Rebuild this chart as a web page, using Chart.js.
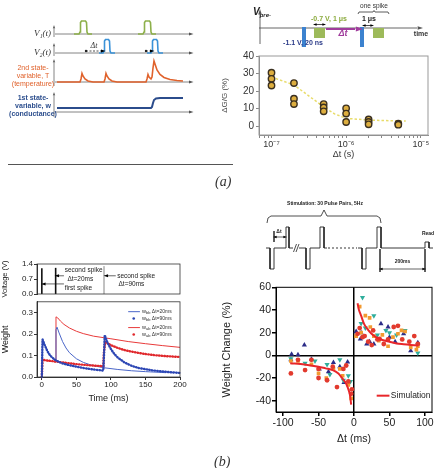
<!DOCTYPE html>
<html>
<head>
<meta charset="utf-8">
<script src="https://cdn.jsdelivr.net/npm/chart.js@4.4.1/dist/chart.umd.min.js"></script>
<style>
body { margin: 0; background: #fff; width: 437px; height: 468px; position: relative; overflow: hidden; }
canvas { position: absolute; }
.cap { position: absolute; font: italic 14px 'Liberation Serif', 'Times New Roman', serif; color: #333; line-height: 1; }
.rule { position: absolute; left: 8px; top: 164px; width: 225px; height: 1px; background: #555; }
</style>
</head>
<body>
<canvas id="a1" width="220" height="125" style="left:0;top:0"></canvas>
<canvas id="a2top" width="197" height="52" style="left:240px;top:0"></canvas>
<canvas id="a2" width="217" height="112" style="left:220px;top:48px"></canvas>
<div class="rule"></div>
<div class="cap" style="left:215px;top:175px">(a)</div>
<canvas id="b1v" width="200" height="45" style="left:0;top:255px"></canvas>
<canvas id="b1w" width="200" height="108" style="left:0;top:296px"></canvas>
<canvas id="b2top" width="187" height="85" style="left:250px;top:195px"></canvas>
<canvas id="b2" width="217" height="165" style="left:220px;top:280px"></canvas>
<div class="cap" style="left:214px;top:455px">(b)</div>

<script>
// ---- (a) left: schematic traces (schematic units) ----
const a1Axes = [[55,34],[189,34],[55,null],[55,53],[189,53],[55,null],[55,82],[189,82],[55,null],[55,112],[189,112],[55,null],
  [54,37],[54,29],[54,null],[54,56],[54,47],[54,null],[54,86],[54,63],[54,null],[54,117],[54,96]];
const a1HeadsRight = [[191,34],[191,53],[191,82],[191,112]];
const a1HeadsUp = [[54,27],[54,45],[54,61],[54,94]];
const a1V1 = [[74,34],[79,34],[80,32],[80.5,22.5],[81.5,21],[85.5,21],[86.5,22.5],[87,32],[88,34],[92,34],[92,null],
  [138,34],[143,34],[144,32],[144.5,22.5],[145.5,21],[149.5,21],[150.5,22.5],[151,32],[152,34],[156,34]];
const a1V2 = [[99,53],[103,53],[104,51],[104.5,41],[105.5,39.5],[108.5,39.5],[109.5,41],[110,51],[111,53],[115,53],[115,null],
  [147,53],[151,53],[152,51],[152.5,41],[153.5,39.5],[156.5,39.5],[157.5,41],[158,51],[159,53],[163,53]];
const a1DtArrows = [[86,51],[102,51],[102,null],[146,51],[151,51]];
const a1T = [[57,82],[80,82],[81,79],[82,73.5],[83,76],[85,79],[88,81],[93,82],[104,82],[105,79],[106,73.5],[107,76],[109,79],
  [112,81],[117,82],[146,82],[147,79],[148,74.5],[149,77],[151,79],[152,77],[153,68],[154,61],[155,64],[157,70],[160,74.5],
  [164,77.5],[170,79.5],[177,80.5],[183,81]];
const a1W = [[57,108],[151,108],[152,107],[153,103],[154,100],[156,98.5],[160,98],[183,98]];

// ---- (a) right top: pulse scheme ----
const a2tAxis = [[259,28],[417,28],[259,null],[260,44],[260,14]];
const a2tBlue = [[304,27],[304,47],[304,null],[362,27],[362,47]];
const a2tGreen = [[314,33],[325,33],[325,null],[373,33],[384,33]];
const a2tPurple = [[326,29],[355,29]];
const a2tBrace = [[358,14],[359,12],[373,12],[374,10.5],[375,12],[388,12],[389,14]];
const a2tSmall = [[316,24.5],[323,24.5],[323,null],[365,25.5],[371,25.5]];

// ---- (a) right: conductance change vs delta t ----
const a2Dt = [1e-7,1e-7,1e-7,2e-7,2e-7,2e-7,5e-7,5e-7,5e-7,1e-6,1e-6,1e-6,2e-6,2e-6,2e-6,5e-6,5e-6];
const a2Dg = [30.5,27,23.2,24.6,15.7,12.6,12.6,10.7,8.5,10.2,7.2,2.4,3.9,2.4,1.1,1.5,0.9];
const a2TrendX = [1e-7,2e-7,3e-7,5e-7,7e-7,1e-6,2e-6,5e-6,6.3e-6];
const a2TrendY = [28,23.5,18,11,7,4.5,3.5,3,3];
const a2XMajor = [1e-7,1e-6,1e-5];
const a2XLabels = ['10\u207B\u2077','10\u207B\u2076','10\u207B\u2075'];
const a2YTicks = [0,10,20,30,40];

// ---- (b) left: voltage and weight ----
const b1Spike1 = [[0,0],[0,1.2]];
const b1Spike2 = [[20,0],[20,1.22]];
const b1Spike3 = [[90,0],[90,1.3]];
const b1Pointers = [[23,0.85],[32,0.85],[32,null],[4,0.47],[32,0.47],[32,null],[95,0.85],[107,0.85]];
const b1VTicks = [0,0.7,1.4];
const b1BlueLineT = [0,1,3,6,10,14,18,20,20.5,22,25,30,35,40,50,60,70,80,90,110,130,150,180];
const b1BlueLineW = [0,0.17,0.16,0.135,0.11,0.092,0.08,0.075,0.22,0.232,0.205,0.165,0.135,0.113,0.085,0.068,0.057,0.049,0.043,0.035,0.029,0.025,0.02];
const b1BlueDotT = [0,1,4,8,12,16,20,25,30,40,50,60,70,80,89,90,91,95,100,105,110,120,130,140,160,180,190,200];
const b1BlueDotW = [0,0.175,0.15,0.12,0.1,0.088,0.078,0.07,0.063,0.055,0.048,0.042,0.037,0.033,0.03,0.1,0.195,0.16,0.13,0.107,0.09,0.067,0.052,0.042,0.031,0.024,0.021,0.019];
const b1RedLineT = [0,1,10,20,20.5,23,27,32,40,50,60,75,100,125,150,175,200];
const b1RedLineW = [0,0.078,0.074,0.07,0.28,0.275,0.26,0.245,0.228,0.213,0.202,0.19,0.178,0.165,0.155,0.146,0.138];
const b1RedDotT = [0,1,10,20,30,40,50,60,70,80,89,90,92,95,100,110,120,130,140,150,165,180,190,200];
const b1RedDotW = [0,0.08,0.076,0.072,0.068,0.064,0.06,0.057,0.054,0.052,0.05,0.12,0.165,0.158,0.148,0.135,0.125,0.118,0.112,0.107,0.101,0.097,0.095,0.093];
const b1TTicks = [0,50,100,150,200];
const b1WTicks = [0,0.1,0.2,0.3];

// ---- (b) right top: stimulation scheme ----
const b2tPulses = [[266,248],[270,248],[270,269],[274,269],[274,248],[286,248],[286,227],[289,227],[289,248],[293,248],[293,null],
  [299,248],[306,248],[306,269],[310,269],[310,248],[320,248],[320,227],[324,227],[324,248],[327,248],[327,null],
  [358,248],[362,248],[362,269],[366,269],[366,248],[377,248],[377,227],[381,227],[381,248],[425,248],[425,242],[429,242],[429,248],[433,248]];
const b2tDashed = [[328,248],[357,248]];
const b2tBreak = [[293.5,252],[296.5,244],[296.5,null],[296,252],[299,244]];
const b2tBrace = [[267,223],[268,218],[271,216],[321,216],[324,210],[327,216],[377,216],[380,218],[381,223]];
const b2tMarks = [[274,231],[274,242],[274,null],[276,237],[284,237],[284,null],[380,249],[380,272],[380,null],[425,249],[425,272],[425,null],[383,269],[422,269]];

// ---- (b) right: weight change vs delta t ----
const b2RedX = [5,8,12,15,20,25,27,33,36,42,48,56,62,68,78,85,90,-89,-79,-69,-60,-50,-50,-38,-30,-24,-15,-11,-8,-4,-3];
const b2RedY = [19,24,16,17,12,9,22,14,14.5,10,14,25,26,14,12,17,10,-16,-4,-13,-4,-12,-20,-22,-10,-28,-12,-9,-23,-34,-30];
const b2OrangeX = [3,8,10,16,22,23,28,35,40,48,55,62,67,72,80,88,90,-89,-79,-60,-50,-39,-29,-20,-16,-8,-4];
const b2OrangeY = [17,43,20,35,33,25,17,13,18,8,16,19,22,21,7,5,8,-5,-5,-8,-16,-20,-12,-12,-18,-26,-38];
const b2TealX = [10,12,16,28,33,45,50,60,72,90,-89,-69,-55,-38,-34,-20,-15,-8,-5];
const b2TealY = [28,51,24,35,18,22,20,18,22,2,-3,-7,-5,-8,-17,-4,-22,-18,-23];
const b2NavyX = [3,9,10,18,22,28,38,48,50,58,70,80,90,-88,-70,-89,-79,-60,-49,-36,-29,-20,-9,-14];
const b2NavyY = [21,14.5,20,10,12,10,27.8,25,16,12,19,4,11,1,9,-4,0.5,-3.5,-12,-14.5,-6.4,-10,-6,-24];
const b2SimPosX = [5,7,10,14,18,24,30,40,50,60,70,80,90];
const b2SimPosY = [46,40,35,28,24,19.5,16.5,13.5,12,10.5,9.8,9.2,8.6];
const b2SimNegX = [-90,-70,-50,-40,-30,-22,-17,-12,-9,-6,-4];
const b2SimNegY = [-7,-8,-10,-11.5,-13,-16,-20,-24,-28,-34,-43.5];
const b2XTicks = [-100,-50,0,50,100];
const b2YTicks = [-40,-20,0,20,40,60];

const SANS = "'Liberation Sans', Arial, sans-serif";
const SERIF = "'Liberation Serif', 'Times New Roman', serif";
Chart.defaults.font.family = SANS;
Chart.defaults.color = '#222';

const xy = a => a.map(p => ({ x: p[0], y: p[1] }));
const pairs = (xs, ys) => xs.map((x, i) => ({ x: x, y: ys[i] }));
const fixTicks = list => s => { s.ticks = list.map(v => ({ value: v })); };

function line(data, color, width, extra) {
    return Object.assign({ data: data, showLine: true, pointRadius: 0, borderColor: color, borderWidth: width,
        spanGaps: false, clip: false, tension: 0 }, extra || {});
}

// text, arrowheads, frame, legend marks drawn in data units
function annot(spec) {
    return {
        id: 'annot',
        afterDatasetsDraw(chart) {
            const ctx = chart.ctx, xs = chart.scales.x, ys = chart.scales.y;
            ctx.save();
            if (spec.frame) {
                const a = chart.chartArea;
                ctx.strokeStyle = spec.frame.color;
                ctx.lineWidth = spec.frame.width;
                ctx.strokeRect(a.left, a.top, a.right - a.left, a.bottom - a.top);
            }
            (spec.segs || []).forEach(g => {
                ctx.strokeStyle = g.c; ctx.lineWidth = g.w;
                ctx.beginPath();
                ctx.moveTo(xs.getPixelForValue(g.x1), ys.getPixelForValue(g.y));
                ctx.lineTo(xs.getPixelForValue(g.x2), ys.getPixelForValue(g.y));
                ctx.stroke();
            });
            (spec.dots || []).forEach(d => {
                ctx.fillStyle = d.c;
                ctx.beginPath();
                ctx.arc(xs.getPixelForValue(d.x), ys.getPixelForValue(d.y), d.r, 0, Math.PI * 2);
                ctx.fill();
            });
            (spec.heads || []).forEach(h => {
                const px = xs.getPixelForValue(h.x), py = ys.getPixelForValue(h.y), s = h.s || 3;
                const ang = { r: 0, l: Math.PI, u: -Math.PI / 2, d: Math.PI / 2 }[h.dir];
                ctx.fillStyle = h.c || '#000';
                ctx.beginPath();
                ctx.moveTo(px + Math.cos(ang) * s, py + Math.sin(ang) * s);
                ctx.lineTo(px + Math.cos(ang + 2.5) * s, py + Math.sin(ang + 2.5) * s);
                ctx.lineTo(px + Math.cos(ang - 2.5) * s, py + Math.sin(ang - 2.5) * s);
                ctx.closePath();
                ctx.fill();
            });
            (spec.notes || []).forEach(n => {
                let px = xs.getPixelForValue(n.x);
                const py = ys.getPixelForValue(n.y);
                ctx.fillStyle = n.c || '#222';
                ctx.textBaseline = 'middle';
                if (n.parts) {
                    ctx.textAlign = 'left';
                    n.parts.forEach(p => {
                        ctx.font = p[1];
                        ctx.fillText(p[0], px, py + (p[2] || 0));
                        px += ctx.measureText(p[0]).width;
                    });
                } else {
                    ctx.font = n.f;
                    ctx.textAlign = n.a || 'left';
                    ctx.fillText(n.t, px, py);
                }
            });
            ctx.restore();
        }
    };
}

function sketch(id, x0, w, y0, h, datasets, spec) {
    return new Chart(document.getElementById(id), {
        type: 'scatter',
        data: { datasets: datasets },
        options: {
            responsive: false, animation: false, events: [],
            layout: { padding: 0 },
            plugins: { legend: { display: false }, tooltip: { enabled: false } },
            scales: {
                x: { type: 'linear', display: false, min: x0, max: x0 + w },
                y: { type: 'linear', display: false, min: y0, max: y0 + h, reverse: true }
            }
        },
        plugins: [annot(spec)]
    });
}

// (a) left
const orange = '#e0622c', navyText = '#2d4f8e';
sketch('a1', 0, 220, 0, 125, [
    line(xy(a1W), '#2b4c8c', 2),
    line(xy(a1T), orange, 1.6),
    line(xy(a1V2), '#3a92d8', 1.6),
    line(xy(a1V1), '#8db04a', 1.6),
    line(xy(a1DtArrows), '#222', 0.8, { borderDash: [2, 1.5] }),
    line(xy(a1Axes), '#666', 0.8)
], {
    heads: a1HeadsRight.map(p => ({ x: p[0], y: p[1], dir: 'r', c: '#555', s: 2.5 }))
        .concat(a1HeadsUp.map(p => ({ x: p[0], y: p[1], dir: 'u', c: '#555', s: 2 })))
        .concat([{ x: 103, y: 51, dir: 'r', s: 2.5 }, { x: 152, y: 51, dir: 'r', s: 2.5 }]),
    dots: [{ x: 86, y: 51, r: 1.2, c: '#222' }, { x: 146, y: 51, r: 1.2, c: '#222' }],
    notes: [
        { x: 51, y: 34, t: 'V\u2081(t)', f: 'italic 9px ' + SERIF, a: 'right', c: '#333' },
        { x: 51, y: 53, t: 'V\u2082(t)', f: 'italic 9px ' + SERIF, a: 'right', c: '#333' },
        { x: 94, y: 45.5, t: '\u0394t', f: 'italic 8px ' + SERIF, a: 'center', c: '#333' },
        { x: 33, y: 68, t: '2nd state-', f: '7px ' + SANS, a: 'center', c: orange },
        { x: 33, y: 76, t: 'variable, T', f: '7px ' + SANS, a: 'center', c: orange },
        { x: 33, y: 84, t: '(temperature)', f: '7px ' + SANS, a: 'center', c: orange },
        { x: 33, y: 98, t: '1st state-', f: 'bold 7px ' + SANS, a: 'center', c: navyText },
        { x: 33, y: 106, t: 'variable, w', f: 'bold 7px ' + SANS, a: 'center', c: navyText },
        { x: 33, y: 114, t: '(conductance)', f: 'bold 7px ' + SANS, a: 'center', c: navyText }
    ]
});

// (a) right top
sketch('a2top', 240, 197, 0, 52, [
    line(xy(a2tBlue), '#3c82cf', 4, { borderCapStyle: 'butt' }),
    line(xy(a2tPurple), '#a03c9c', 2),
    line(xy(a2tGreen), '#9dba5a', 10, { borderCapStyle: 'butt' }),
    line(xy(a2tSmall), '#222', 0.8),
    line(xy(a2tBrace), '#333', 0.8),
    line(xy(a2tAxis), '#555', 0.9)
], {
    heads: [{ x: 420, y: 28, dir: 'r', c: '#555', s: 3 }, { x: 260, y: 12, dir: 'u', c: '#555', s: 3 },
        { x: 359, y: 29, dir: 'r', c: '#a03c9c', s: 4 },
        { x: 315, y: 24.5, dir: 'l', s: 2 }, { x: 324, y: 24.5, dir: 'r', s: 2 },
        { x: 364, y: 25.5, dir: 'l', s: 2 }, { x: 372, y: 25.5, dir: 'r', s: 2 }],
    notes: [
        { x: 253, y: 12, parts: [['V', 'bold italic 10px ' + SANS, 0], ['pre-', 'bold italic 6px ' + SANS, 3]], c: '#222' },
        { x: 329, y: 19, t: '-0.7 V, 1 \u03BCs', f: 'bold 7px ' + SANS, a: 'center', c: '#8aaa3c' },
        { x: 303, y: 43, t: '-1.1 V, 20 ns', f: 'bold 7px ' + SANS, a: 'center', c: '#2a3a88' },
        { x: 343, y: 34, t: '\u0394t', f: 'bold italic 9px ' + SANS, a: 'center', c: '#a03c9c' },
        { x: 374, y: 6, t: 'one spike', f: '6.5px ' + SANS, a: 'center', c: '#333' },
        { x: 369, y: 19.5, t: '1 \u03BCs', f: 'bold 7px ' + SANS, a: 'center', c: '#222' },
        { x: 421, y: 34, t: 'time', f: 'bold 7px ' + SANS, a: 'center', c: '#333' }
    ]
});

// (a) right chart
new Chart(document.getElementById('a2'), {
    type: 'scatter',
    data: {
        datasets: [
            { data: pairs(a2Dt, a2Dg), pointRadius: 3.2, pointBackgroundColor: '#ddae3f', pointBorderColor: '#3b3020', pointBorderWidth: 1.4 },
            line(pairs(a2TrendX, a2TrendY), '#e8dc6a', 1.5, { borderDash: [2.5, 2] })
        ]
    },
    options: {
        responsive: false, animation: false, events: [],
        layout: { padding: { left: 0, top: 5, right: 9, bottom: 0 } },
        plugins: { legend: { display: false }, tooltip: { enabled: false } },
        scales: {
            x: {
                type: 'logarithmic', min: 6.8e-8, max: 1.25e-5,
                afterBuildTicks: s => {
                    const t = [];
                    for (let e = -8; e <= -5; e++) for (let m = 1; m < 10; m++) {
                        const v = m * Math.pow(10, e);
                        if (v >= 6.8e-8 && v <= 1.25e-5) t.push({ value: v });
                    }
                    s.ticks = t;
                },
                afterFit: s => { s.height = 25; },
                ticks: {
                    autoSkip: false, maxRotation: 0, padding: 1, font: { size: 9 }, color: '#333',
                    callback: v => { const i = a2XMajor.findIndex(m => Math.abs(v / m - 1) < 1e-6); return i < 0 ? '' : a2XLabels[i]; }
                },
                grid: { drawOnChartArea: false, tickLength: 3, color: '#888' },
                border: { color: '#888' },
                title: { display: true, text: '\u0394t (s)', font: { size: 9 }, padding: 0, color: '#333' }
            },
            y: {
                min: -5, max: 40,
                afterBuildTicks: fixTicks(a2YTicks),
                afterFit: s => { s.width = 39; },
                ticks: { font: { size: 10 }, padding: 2, color: '#333' },
                grid: { drawOnChartArea: false, tickLength: 3, color: '#888' },
                border: { color: '#888' },
                title: { display: true, text: '\u0394G/G (%)', font: { size: 8 }, padding: 0, color: '#444' }
            }
        }
    },
    plugins: [annot({ frame: { color: '#999', width: 1 } })]
});

// (b) left: voltage panel
const txt = '6.5px ' + SANS;
new Chart(document.getElementById('b1v'), {
    type: 'scatter',
    data: {
        datasets: [
            line(xy(b1Spike1), '#111', 1.6),
            line(xy(b1Spike2), '#111', 1.6),
            line(xy(b1Spike3), '#666', 0.8),
            line(xy(b1Pointers), '#222', 0.7)
        ]
    },
    options: {
        responsive: false, animation: false, events: [],
        layout: { padding: { left: 0, top: 9, right: 20, bottom: 6 } },
        plugins: { legend: { display: false }, tooltip: { enabled: false } },
        scales: {
            x: { type: 'linear', display: false, min: -7, max: 200 },
            y: {
                min: 0, max: 1.4,
                afterBuildTicks: fixTicks(b1VTicks),
                afterFit: s => { s.width = 37; },
                ticks: { font: { size: 8 }, padding: 1, callback: v => v.toFixed(1) },
                grid: { drawOnChartArea: false, tickLength: 3, color: '#333' },
                border: { color: '#333' },
                title: { display: true, text: 'Voltage (V)', font: { size: 7.5 }, padding: 0 }
            }
        }
    },
    plugins: [annot({
        frame: { color: '#333', width: 0.8 },
        heads: [{ x: 22, y: 0.85, dir: 'l', s: 2.5 }, { x: 2.5, y: 0.47, dir: 'l', s: 2.5 }, { x: 93, y: 0.85, dir: 'l', s: 2.5 }],
        notes: [
            { x: 33, y: 1.09, t: 'second spike', f: txt },
            { x: 37, y: 0.7, t: '\u0394t=20ms', f: txt },
            { x: 33, y: 0.28, t: 'first spike', f: txt },
            { x: 109, y: 0.85, t: 'second spike', f: txt },
            { x: 111, y: 0.47, t: '\u0394t=90ms', f: txt }
        ]
    })]
});

// (b) left: weight panel
const legTxt = (sub, dt) => [['w', '5.5px ' + SANS, 0], [sub, '4px ' + SANS, 1.5], [' \u0394t=' + dt, '5px ' + SANS, 0]];
new Chart(document.getElementById('b1w'), {
    type: 'scatter',
    data: {
        datasets: [
            line(pairs(b1BlueDotT, b1BlueDotW), '#2c46b4', 2.4, { borderDash: [0.5, 2.2], borderCapStyle: 'round' }),
            line(pairs(b1RedDotT, b1RedDotW), '#e0282c', 2.4, { borderDash: [0.5, 2.2], borderCapStyle: 'round' }),
            line(pairs(b1BlueLineT, b1BlueLineW), '#4a66c8', 1),
            line(pairs(b1RedLineT, b1RedLineW), '#e83a3a', 1)
        ]
    },
    options: {
        responsive: false, animation: false, events: [],
        layout: { padding: { left: 0, top: 4, right: 20, bottom: 0 } },
        plugins: { legend: { display: false }, tooltip: { enabled: false } },
        scales: {
            x: {
                type: 'linear', min: -7, max: 200,
                afterBuildTicks: fixTicks(b1TTicks),
                afterFit: s => { s.height = 27; },
                ticks: { font: { size: 8 }, padding: 0, maxRotation: 0 },
                grid: { drawOnChartArea: false, tickLength: 3, color: '#333' },
                border: { color: '#333' },
                title: { display: true, text: 'Time (ms)', font: { size: 9 }, padding: 0 }
            },
            y: {
                min: 0, max: 0.35,
                afterBuildTicks: fixTicks(b1WTicks),
                afterFit: s => { s.width = 37; },
                ticks: { font: { size: 8 }, padding: 1, callback: v => v.toFixed(1) },
                grid: { drawOnChartArea: false, tickLength: 3, color: '#333' },
                border: { color: '#333' },
                title: { display: true, text: 'Weight', font: { size: 9 }, padding: 0 }
            }
        }
    },
    plugins: [annot({
        frame: { color: '#333', width: 0.8 },
        segs: [{ x1: 125, x2: 142, y: 0.304, c: '#4a66c8', w: 1 }, { x1: 125, x2: 142, y: 0.23, c: '#e83a3a', w: 1 }],
        dots: [{ x: 133, y: 0.272, r: 1.3, c: '#2c46b4' }, { x: 133, y: 0.198, r: 1.3, c: '#e0282c' }],
        notes: [
            { x: 145, y: 0.304, parts: legTxt('bb', '20ms'), c: '#333' },
            { x: 145, y: 0.272, parts: legTxt('bb', '90ms'), c: '#333' },
            { x: 145, y: 0.23, parts: legTxt('ab', '20ms'), c: '#333' },
            { x: 145, y: 0.198, parts: legTxt('ab', '90ms'), c: '#333' }
        ]
    })]
});

// (b) right top
sketch('b2top', 250, 187, 195, 85, [
    line(xy(b2tPulses), '#222', 0.9),
    line(xy(b2tDashed), '#222', 0.9, { borderDash: [2, 2] }),
    line(xy(b2tBreak), '#222', 0.8),
    line(xy(b2tBrace), '#222', 0.8),
    line(xy(b2tMarks), '#222', 0.7)
], {
    heads: [{ x: 275, y: 237, dir: 'l', s: 2 }, { x: 285, y: 237, dir: 'r', s: 2 },
        { x: 381, y: 269, dir: 'l', s: 2.2 }, { x: 424, y: 269, dir: 'r', s: 2.2 }],
    notes: [
        { x: 325, y: 204, t: 'Stimulation: 30 Pulse Pairs, 5Hz', f: 'bold 5px ' + SANS, a: 'center' },
        { x: 279, y: 232, t: '\u0394t', f: 'bold 5px ' + SANS, a: 'center' },
        { x: 402.5, y: 262, t: '200ms', f: 'bold 5px ' + SANS, a: 'center' },
        { x: 428, y: 234, t: 'Read', f: 'bold 5px ' + SANS, a: 'center' }
    ]
});

// (b) right chart
const simRed = '#e8262a';
new Chart(document.getElementById('b2'), {
    type: 'scatter',
    data: {
        datasets: [
            line(pairs(b2SimPosX, b2SimPosY), simRed, 2, { tension: 0.3 }),
            line(pairs(b2SimNegX, b2SimNegY), simRed, 2, { tension: 0.3 }),
            { data: pairs(b2RedX, b2RedY), pointStyle: 'circle', pointRadius: 2.4, pointBackgroundColor: '#e23a2e', pointBorderWidth: 0 },
            { data: pairs(b2OrangeX, b2OrangeY), pointStyle: 'rect', pointRadius: 2.6, pointBackgroundColor: '#f29a30', pointBorderWidth: 0 },
            { data: pairs(b2TealX, b2TealY), pointStyle: 'triangle', rotation: 180, pointRadius: 3, pointBackgroundColor: '#2fae9c', pointBorderWidth: 0 },
            { data: pairs(b2NavyX, b2NavyY), pointStyle: 'triangle', pointRadius: 3, pointBackgroundColor: '#2c2c88', pointBorderWidth: 0 }
        ]
    },
    options: {
        responsive: false, animation: false, events: [],
        layout: { padding: { left: 0, top: 4, right: 5, bottom: 0 } },
        plugins: { legend: { display: false }, tooltip: { enabled: false } },
        scales: {
            x: {
                type: 'linear', min: -110, max: 110,
                afterBuildTicks: fixTicks(b2XTicks),
                afterFit: s => { s.height = 33; },
                ticks: { font: { size: 10.5 }, padding: 1, maxRotation: 0, autoSkip: false },
                grid: { color: c => (c.tick && c.tick.value === 0 ? '#000' : 'rgba(0,0,0,0)'), lineWidth: 1.5, tickColor: '#000', tickLength: 4 },
                border: { color: '#000' },
                title: { display: true, text: '\u0394t (ms)', font: { size: 10.5 }, padding: 0 }
            },
            y: {
                min: -50, max: 60,
                afterBuildTicks: fixTicks(b2YTicks),
                afterFit: s => { s.width = 56; },
                ticks: { font: { size: 10.5 }, padding: 1 },
                grid: { color: c => (c.tick && c.tick.value === 0 ? '#000' : 'rgba(0,0,0,0)'), lineWidth: 1.5, tickColor: '#000', tickLength: 4 },
                border: { color: '#000' },
                title: { display: true, text: 'Weight Change (%)', font: { size: 11 }, padding: 0 }
            }
        }
    },
    plugins: [annot({
        frame: { color: '#000', width: 1 },
        segs: [{ x1: 32, x2: 50, y: -35.6, c: simRed, w: 2 }],
        notes: [{ x: 52, y: -35.6, t: 'Simulation', f: '8.5px ' + SANS, c: '#222' }]
    })]
});
</script>
</body>
</html>
